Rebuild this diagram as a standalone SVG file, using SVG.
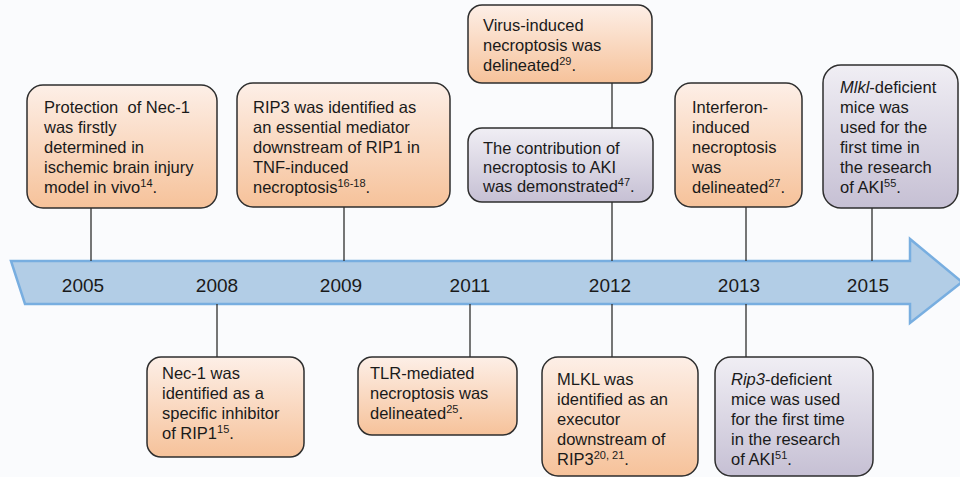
<svg xmlns="http://www.w3.org/2000/svg" width="960" height="477" viewBox="0 0 960 477">
<defs>
<linearGradient id="gOr" x1="0" y1="0" x2="0" y2="1">
<stop offset="0" stop-color="#fdefe7"/>
<stop offset="1" stop-color="#f6c29a"/>
</linearGradient>
<linearGradient id="gPu" x1="0" y1="0" x2="0" y2="1">
<stop offset="0" stop-color="#f0eef4"/>
<stop offset="1" stop-color="#c6c0d4"/>
</linearGradient>
<style>
.or{fill:url(#gOr);stroke:#2e2e2e;stroke-width:1.5}
.pu{fill:url(#gPu);stroke:#2e2e2e;stroke-width:1.5}
.t{font-family:"Liberation Sans",Arial,sans-serif;font-size:16.5px;fill:#1a1a1a}
.yr{font-family:"Liberation Sans",Arial,sans-serif;font-size:19px;fill:#1a1a1a;text-anchor:middle}
.sup{font-size:11px}
.ln{stroke:#2e2e2e;stroke-width:1.3;fill:none}
</style>
</defs>
<rect x="0" y="0" width="960" height="477" fill="#fafbfd"/>

<g id="timeline">
<polygon points="11,261 910,261 910,239 962,282 910,323 910,304 25,304" fill="#b2cde6" stroke="#78aee0" stroke-width="2.5" stroke-linejoin="miter"/>
<text class="yr" x="83" y="292">2005</text>
<text class="yr" x="217" y="292">2008</text>
<text class="yr" x="341" y="292">2009</text>
<text class="yr" x="470" y="292">2011</text>
<text class="yr" x="610" y="292">2012</text>
<text class="yr" x="739" y="292">2013</text>
<text class="yr" x="868" y="292">2015</text>
</g>

<g id="connectors">
<line class="ln" x1="91" y1="208" x2="91" y2="261"/>
<line class="ln" x1="344" y1="207" x2="344" y2="261"/>
<line class="ln" x1="612" y1="83" x2="612" y2="128"/>
<line class="ln" x1="612" y1="202" x2="612" y2="261"/>
<line class="ln" x1="746" y1="207" x2="746" y2="261"/>
<line class="ln" x1="872" y1="208" x2="872" y2="261"/>
<line class="ln" x1="217" y1="304" x2="217" y2="357"/>
<line class="ln" x1="470" y1="304" x2="470" y2="357"/>
<line class="ln" x1="612" y1="304" x2="612" y2="357"/>
<line class="ln" x1="746" y1="304" x2="746" y2="357"/>
</g>

<g id="n2005">
<rect class="or" x="27" y="85" width="190" height="123" rx="16"/>
<text class="t" x="44" y="113">Protection&#160; of Nec-1</text>
<text class="t" x="44" y="133">was firstly</text>
<text class="t" x="44" y="153">determined in</text>
<text class="t" x="44" y="173">ischemic brain injury</text>
<text class="t" x="44" y="193">model in vivo<tspan class="sup" dy="-6">14</tspan><tspan dy="6">.</tspan></text>
</g>

<g id="n2009">
<rect class="or" x="237" y="83" width="213" height="124" rx="16"/>
<text class="t" x="253" y="113">RIP3 was identified as</text>
<text class="t" x="253" y="133">an essential mediator</text>
<text class="t" x="253" y="153">downstream of RIP1 in</text>
<text class="t" x="253" y="173">TNF-induced</text>
<text class="t" x="253" y="193">necroptosis<tspan class="sup" dy="-6">16-18</tspan><tspan dy="6">.</tspan></text>
</g>

<g id="n2012virus">
<rect class="or" x="468" y="5" width="184" height="78" rx="14"/>
<text class="t" x="483" y="31">Virus-induced</text>
<text class="t" x="483" y="51">necroptosis was</text>
<text class="t" x="483" y="71">delineated<tspan class="sup" dy="-6">29</tspan><tspan dy="6">.</tspan></text>
</g>

<g id="n2012aki">
<rect class="pu" x="468" y="128" width="185" height="74" rx="14"/>
<text class="t" x="483" y="154">The contribution of</text>
<text class="t" x="483" y="173">necroptosis to AKI</text>
<text class="t" x="483" y="192">was demonstrated<tspan class="sup" dy="-6">47</tspan><tspan dy="6">.</tspan></text>
</g>

<g id="n2013ifn">
<rect class="or" x="675" y="83" width="127" height="124" rx="16"/>
<text class="t" x="692" y="113">Interferon-</text>
<text class="t" x="692" y="133">induced</text>
<text class="t" x="692" y="153">necroptosis</text>
<text class="t" x="692" y="173">was</text>
<text class="t" x="692" y="193">delineated<tspan class="sup" dy="-6">27</tspan><tspan dy="6">.</tspan></text>
</g>

<g id="n2015">
<rect class="pu" x="823" y="65" width="135" height="143" rx="18"/>
<text class="t" x="840" y="93"><tspan font-style="italic">Mlkl</tspan>-deficient</text>
<text class="t" x="840" y="113">mice was</text>
<text class="t" x="840" y="133">used for the</text>
<text class="t" x="840" y="153">first time in</text>
<text class="t" x="840" y="173">the research</text>
<text class="t" x="840" y="193">of AKI<tspan class="sup" dy="-6">55</tspan><tspan dy="6">.</tspan></text>
</g>

<g id="n2008">
<rect class="or" x="147" y="357" width="157" height="100" rx="14"/>
<text class="t" x="162" y="379">Nec-1 was</text>
<text class="t" x="162" y="399">identified as a</text>
<text class="t" x="162" y="419">specific inhibitor</text>
<text class="t" x="162" y="439">of RIP1<tspan class="sup" dy="-6">15</tspan><tspan dy="6">.</tspan></text>
</g>

<g id="n2011">
<rect class="or" x="358" y="357" width="159" height="78" rx="14"/>
<text class="t" x="370" y="379">TLR-mediated</text>
<text class="t" x="370" y="399">necroptosis was</text>
<text class="t" x="370" y="419">delineated<tspan class="sup" dy="-6">25</tspan><tspan dy="6">.</tspan></text>
</g>

<g id="n2012mlkl">
<rect class="or" x="542" y="357" width="156" height="119" rx="16"/>
<text class="t" x="557" y="385">MLKL was</text>
<text class="t" x="557" y="405">identified as an</text>
<text class="t" x="557" y="425">executor</text>
<text class="t" x="557" y="445">downstream of</text>
<text class="t" x="557" y="465">RIP3<tspan class="sup" dy="-6">20, 21</tspan><tspan dy="6">.</tspan></text>
</g>

<g id="n2013rip3">
<rect class="pu" x="715" y="357" width="158" height="119" rx="16"/>
<text class="t" x="731" y="385"><tspan font-style="italic">Rip3</tspan>-deficient</text>
<text class="t" x="731" y="405">mice was used</text>
<text class="t" x="731" y="425">for the first time</text>
<text class="t" x="731" y="445">in the research</text>
<text class="t" x="731" y="465">of AKI<tspan class="sup" dy="-6">51</tspan><tspan dy="6">.</tspan></text>
</g>
</svg>
